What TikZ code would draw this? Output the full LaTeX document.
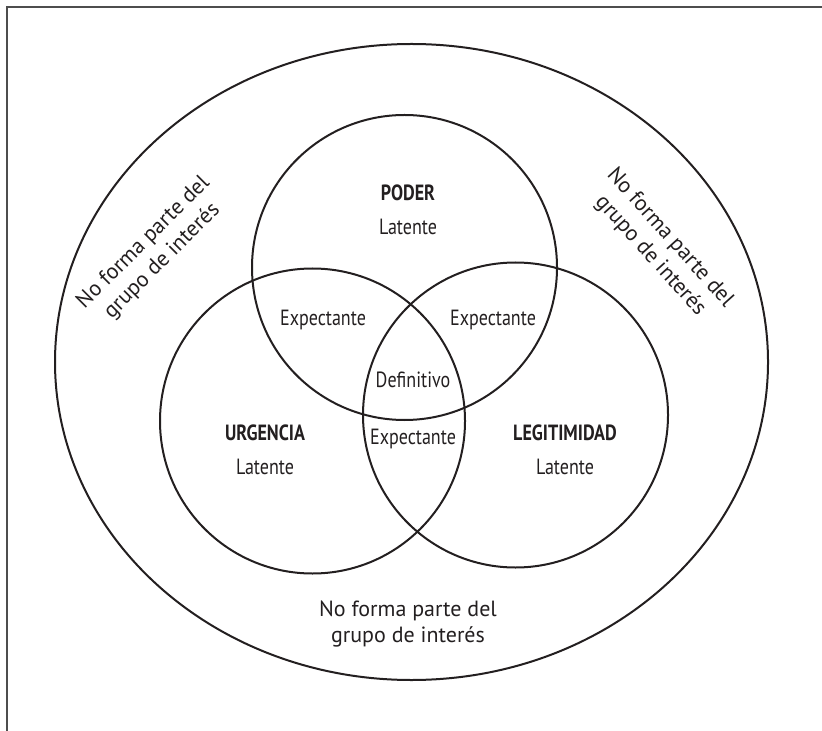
\documentclass[tikz,border=0pt]{standalone}
\usepackage{fontspec}
\setmainfont{PT Sans}
\newfontfamily\condfont[FakeStretch=0.82]{PT Sans}
\usetikzlibrary{positioning}
\definecolor{ink}{HTML}{231F20}
\definecolor{framegray}{HTML}{4D4D4D}

\begin{document}
\begin{tikzpicture}[x=0.5pt,y=-0.5pt,
  set/.style={draw=ink,line width=1pt},
  region/.style={text=ink,font=\condfont\fontsize{11}{13}\selectfont,inner sep=1pt},
  title/.style={region,font=\condfont\bfseries\fontsize{11}{13}\selectfont},
  outside/.style={text=ink,font=\fontsize{11}{13.2}\selectfont,align=center,inner sep=1pt}]
	\useasboundingbox (0,0) rectangle (822,731);
	\draw[framegray,line width=1pt] (7,731) -- (7,7) -- (822,7);
	\draw[set] (411.5,362) ellipse [x radius=356.5,y radius=318];
	\draw[set] (404.5,267.5) circle [radius=152.5];
	\draw[set] (312.5,421) circle [radius=152.5];
	\draw[set] (515.5,415) circle [radius=152.5];
	\node (poder)[title] at (408,193) {PODER};
	\node (latP)[region] at (408,227) {Latente};
	\node (urgencia)[title] at (265,433) {URGENCIA};
	\node (latU)[region] at (265,467) {Latente};
	\node (legitimidad)[title] at (565,433) {LEGITIMIDAD};
	\node (latL)[region] at (565,467) {Latente};
	\node (expPU)[region] at (323,320) {Expectante};
	\node (expPL)[region] at (493,320) {Expectante};
	\node (def)[region] at (413,380) {Definitivo};
	\node (expUL)[region] at (413,439) {Expectante};
	\node (outL)[outside,rotate=45] at (153,252) {No forma parte del\\grupo de interés};
	\node (outR)[outside,rotate=-48] at (660,247) {No forma parte del\\grupo de interés};
	\node (outB)[outside] at (408,624) {No forma parte del\\grupo de interés};
\end{tikzpicture}
\end{document}
